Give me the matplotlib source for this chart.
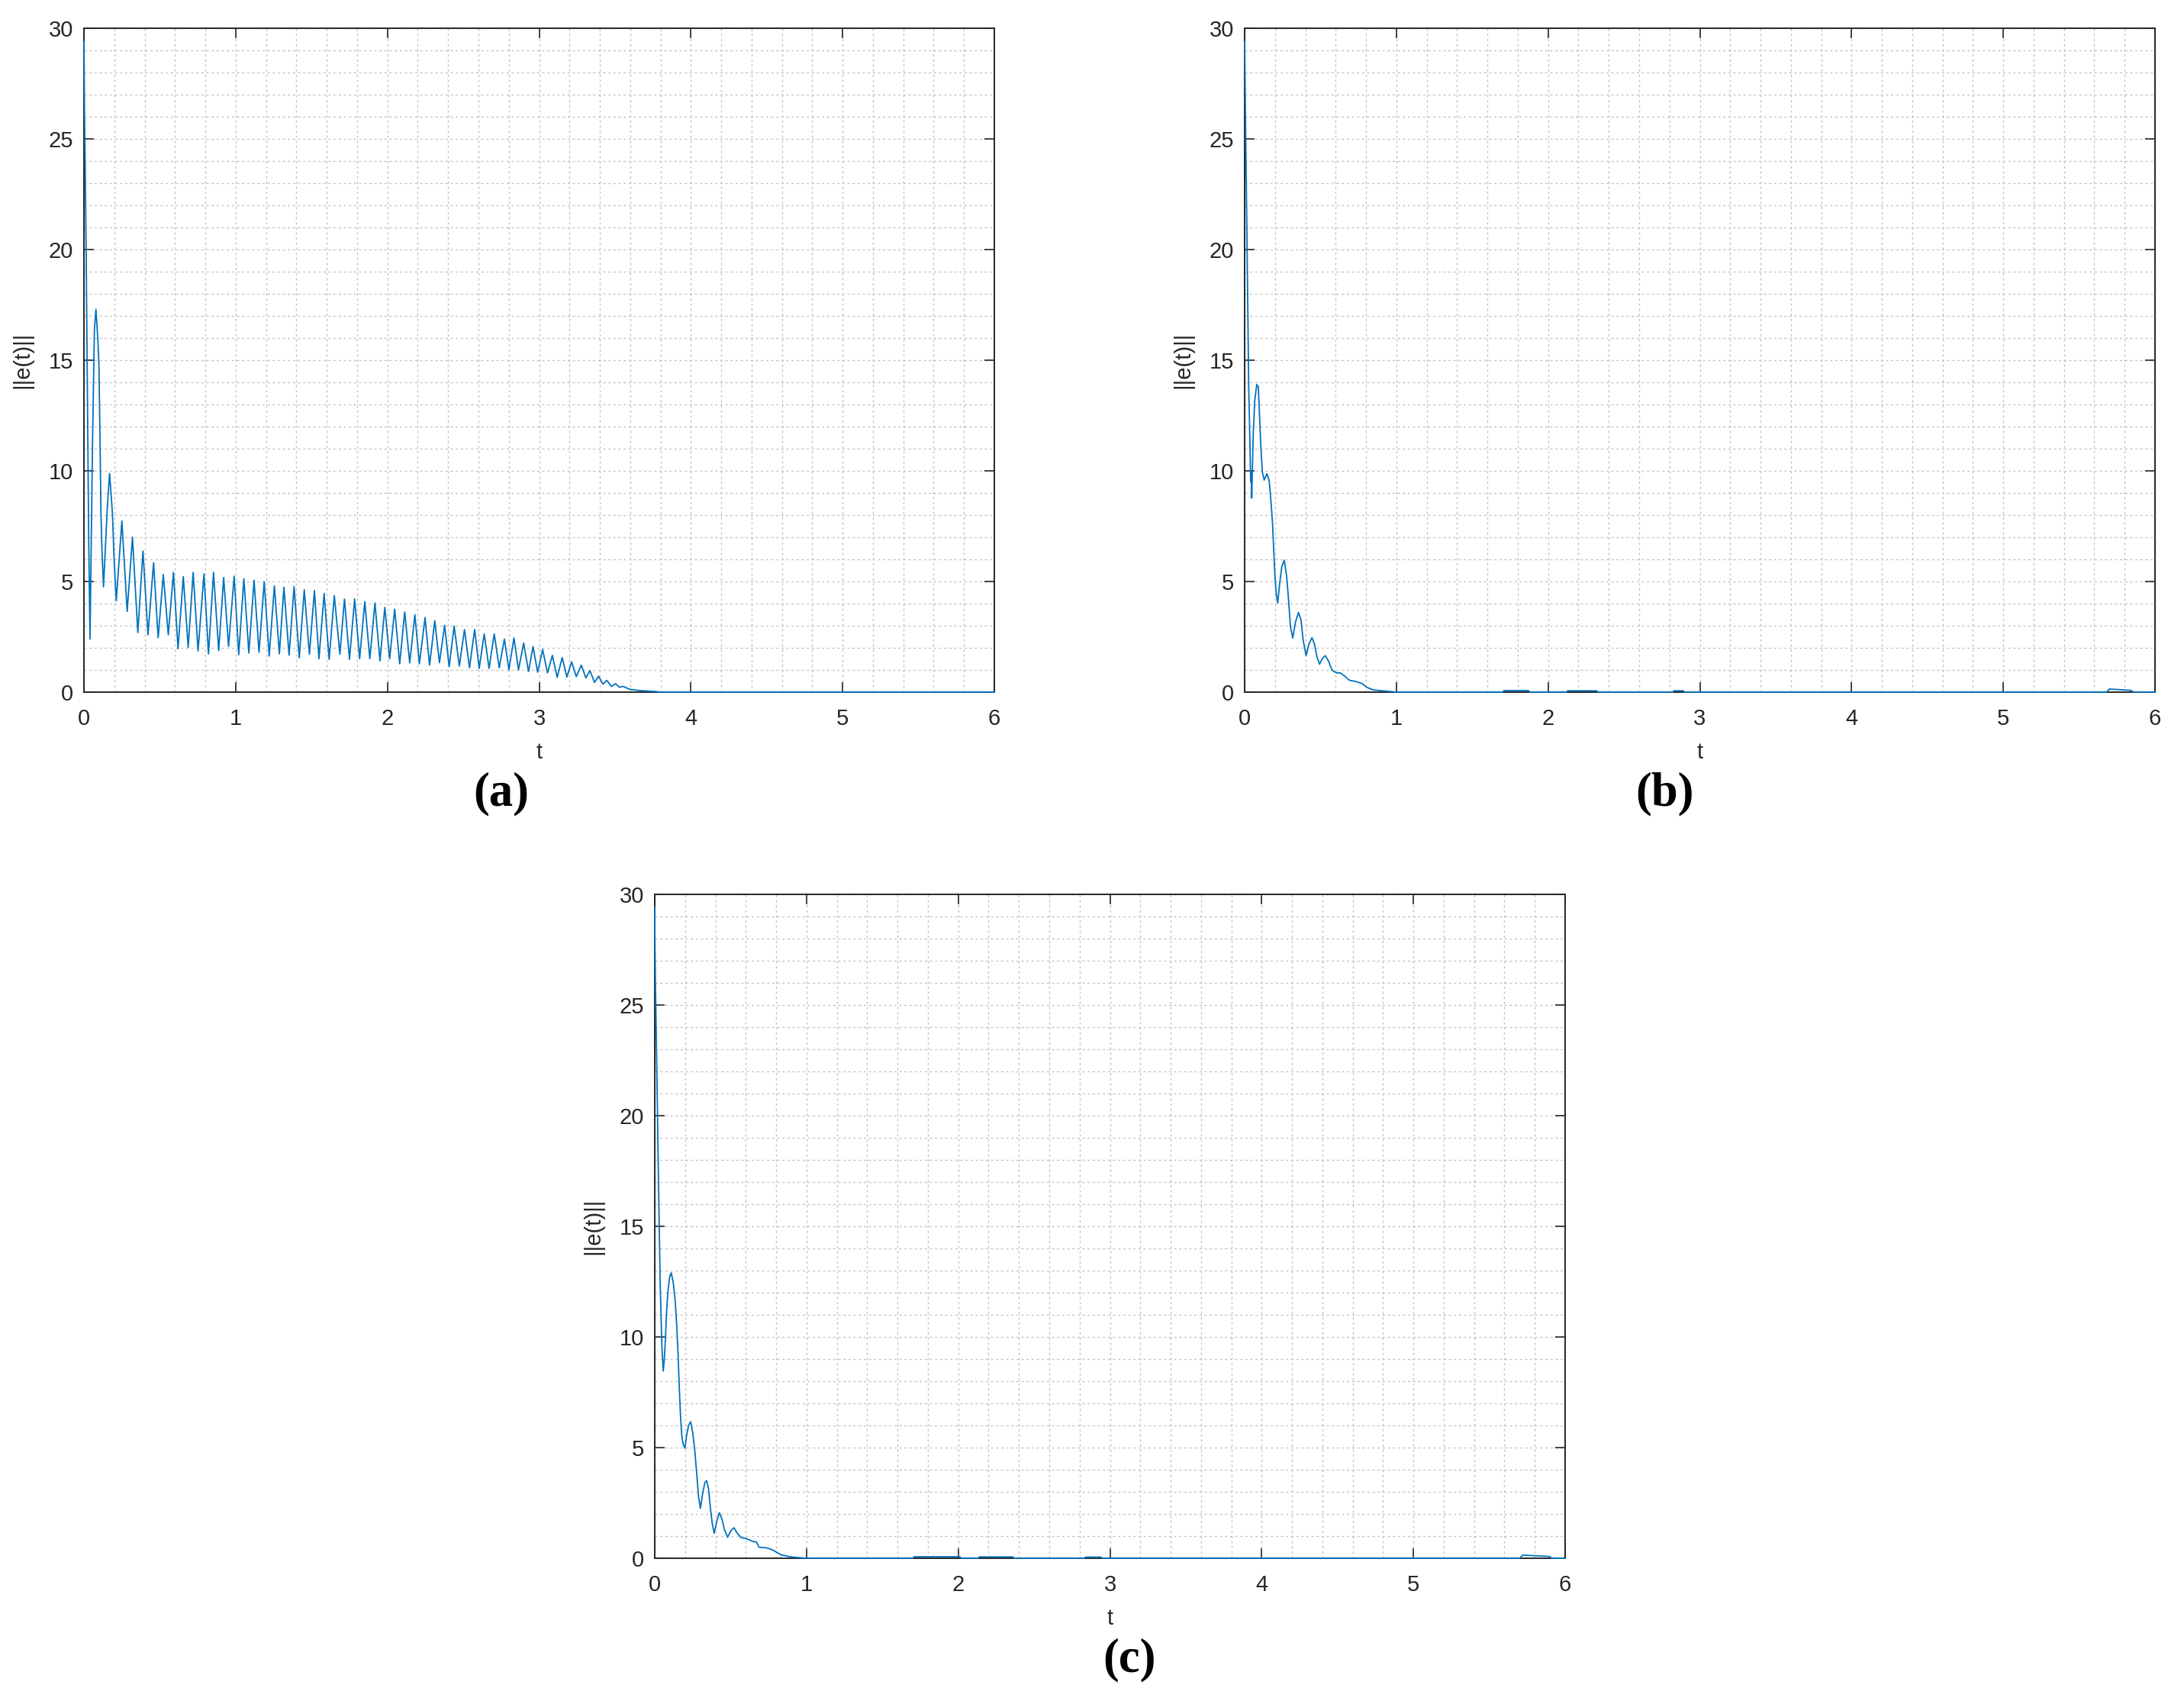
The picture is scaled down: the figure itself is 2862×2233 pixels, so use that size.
import matplotlib
matplotlib.use("Agg")
import matplotlib.pyplot as plt
from matplotlib.ticker import MultipleLocator

# ||e(t)|| (peaks, troughs and bends)
t_a = [0.000, 0.003, 0.008, 0.015, 0.020, 0.025, 0.032, 0.040, 0.046, 0.051,
       0.056, 0.062, 0.069, 0.079, 0.092, 0.099, 0.106, 0.112, 0.119, 0.129,
       0.142, 0.154, 0.169, 0.188, 0.199, 0.213, 0.250, 0.285, 0.320, 0.355,
       0.389, 0.422, 0.459, 0.489, 0.523, 0.556, 0.590, 0.620, 0.655, 0.687,
       0.720, 0.752, 0.791, 0.821, 0.854, 0.888, 0.921, 0.953, 0.990, 1.020,
       1.054, 1.087, 1.121, 1.154, 1.188, 1.221, 1.255, 1.288, 1.318, 1.352,
       1.385, 1.419, 1.452, 1.486, 1.519, 1.549, 1.583, 1.616, 1.650, 1.687,
       1.717, 1.750, 1.784, 1.817, 1.851, 1.884, 1.918, 1.951, 1.983, 2.015,
       2.048, 2.081, 2.114, 2.147, 2.181, 2.211, 2.248, 2.278, 2.312, 2.343,
       2.377, 2.407, 2.440, 2.474, 2.508, 2.541, 2.575, 2.605, 2.638, 2.670,
       2.704, 2.737, 2.771, 2.801, 2.834, 2.864, 2.898, 2.930, 2.960, 2.990,
       3.023, 3.055, 3.087, 3.119, 3.152, 3.183, 3.214, 3.245, 3.278, 3.308,
       3.335, 3.365, 3.392, 3.420, 3.446, 3.476, 3.504, 3.529, 3.554, 3.596,
       3.663, 3.764, 3.800, 6.000]
e_a = [29.4, 26.5, 24.0, 19.6, 15.7, 11.6, 6.5, 2.4, 5.7, 8.4,
       11.0, 13.4, 16.4, 17.3, 15.9, 14.7, 11.4, 8.1, 6.4, 4.76,
       6.6, 8.35, 9.88, 8.06, 5.95, 4.13, 7.73, 3.65, 7.00, 2.69,
       6.37, 2.59, 5.85, 2.46, 5.32, 2.59, 5.41, 1.96, 5.22, 2.02,
       5.41, 1.86, 5.34, 1.73, 5.41, 1.88, 5.18, 2.07, 5.24, 1.69,
       5.12, 1.77, 5.05, 1.80, 4.99, 1.63, 4.80, 1.73, 4.74, 1.67,
       4.77, 1.55, 4.63, 1.71, 4.59, 1.51, 4.46, 1.48, 4.36, 1.71,
       4.21, 1.48, 4.21, 1.51, 4.09, 1.51, 4.03, 1.41, 3.83, 1.51,
       3.75, 1.28, 3.62, 1.32, 3.50, 1.28, 3.37, 1.22, 3.23, 1.33,
       3.02, 1.16, 2.98, 1.18, 2.83, 1.10, 2.83, 1.07, 2.63, 1.07,
       2.63, 1.10, 2.40, 1.01, 2.45, 1.01, 2.22, 0.93, 2.06, 0.90,
       1.93, 0.87, 1.66, 0.67, 1.56, 0.68, 1.37, 0.70, 1.22, 0.64,
       0.97, 0.44, 0.72, 0.36, 0.53, 0.26, 0.38, 0.22, 0.26, 0.13,
       0.07, 0.03, 0.0, 0.0]

t_b = [0.000, 0.003, 0.007, 0.012, 0.017, 0.022, 0.027, 0.034, 0.040, 0.044,
       0.047, 0.057, 0.067, 0.080, 0.090, 0.099, 0.107, 0.117, 0.129, 0.147,
       0.162, 0.174, 0.184, 0.193, 0.201, 0.209, 0.218, 0.231, 0.245, 0.261,
       0.276, 0.288, 0.302, 0.317, 0.335, 0.355, 0.372, 0.385, 0.405, 0.425,
       0.444, 0.461, 0.476, 0.494, 0.511, 0.531, 0.553, 0.576, 0.606, 0.631,
       0.657, 0.690, 0.732, 0.774, 0.807, 0.849, 0.908, 0.975, 1.000,
       1.70, 1.71, 1.87, 1.88, 2.12, 2.13, 2.32, 2.33, 2.82, 2.83, 2.89, 2.90,
       5.68, 5.70, 5.84, 5.86, 6.00]
e_b = [29.4, 27.5, 25.2, 22.5, 19.6, 16.7, 13.8, 11.6, 9.5, 10.0,
       8.77, 11.7, 13.2, 13.9, 13.8, 12.4, 11.1, 9.93, 9.58, 9.87,
       9.55, 8.58, 7.61, 6.25, 5.09, 4.41, 4.03, 4.90, 5.67, 5.96,
       5.29, 4.32, 2.96, 2.44, 3.16, 3.60, 3.25, 2.38, 1.65, 2.19,
       2.46, 2.15, 1.61, 1.26, 1.51, 1.65, 1.41, 0.99, 0.87, 0.87,
       0.74, 0.54, 0.48, 0.39, 0.21, 0.10, 0.06, 0.02, 0.0,
       0.0, 0.07, 0.07, 0.0, 0.0, 0.06, 0.06, 0.0, 0.0, 0.06, 0.06, 0.0,
       0.0, 0.14, 0.08, 0.0, 0.0]

t_c = [0.000, 0.001, 0.005, 0.010, 0.015, 0.020, 0.025, 0.030, 0.035, 0.042,
       0.047, 0.056, 0.062, 0.069, 0.077, 0.086, 0.098, 0.109, 0.123, 0.135,
       0.145, 0.153, 0.162, 0.170, 0.178, 0.187, 0.199, 0.210, 0.224, 0.237,
       0.251, 0.264, 0.278, 0.288, 0.301, 0.316, 0.330, 0.342, 0.355, 0.367,
       0.379, 0.392, 0.409, 0.426, 0.443, 0.460, 0.480, 0.502, 0.522, 0.544,
       0.569, 0.603, 0.645, 0.670, 0.687, 0.737, 0.779, 0.830, 0.897, 0.965,
       1.000,
       1.70, 1.71, 2.01, 2.02, 2.13, 2.14, 2.36, 2.37, 2.83, 2.84, 2.94, 2.95,
       5.70, 5.72, 5.90, 5.91, 6.00]
e_c = [29.4, 27.8, 25.8, 23.7, 21.5, 19.2, 16.9, 14.9, 12.7, 10.8,
       9.6, 8.46, 8.9, 9.7, 11.0, 12.0, 12.7, 12.9, 12.4, 11.6,
       10.5, 9.33, 7.68, 6.42, 5.55, 5.16, 4.97, 5.55, 6.03, 6.17,
       5.64, 4.87, 3.71, 2.83, 2.25, 2.93, 3.41, 3.51, 3.12, 2.25,
       1.57, 1.13, 1.67, 2.06, 1.77, 1.28, 0.95, 1.24, 1.38, 1.13,
       0.93, 0.89, 0.76, 0.74, 0.50, 0.47, 0.37, 0.16, 0.06, 0.02,
       0.0,
       0.0, 0.07, 0.07, 0.0, 0.0, 0.06, 0.06, 0.0, 0.0, 0.05, 0.05, 0.0,
       0.0, 0.14, 0.08, 0.0, 0.0]

x_ticks = [0, 1, 2, 3, 4, 5, 6]
y_ticks = [0, 5, 10, 15, 20, 25, 30]

plt.rcParams['font.family'] = ['Liberation Sans', 'DejaVu Sans']

fig = plt.figure(figsize=(28.62, 22.33), dpi=100)

ax_w, ax_h = 1193 / 2862, 870 / 2233
boxes = {
    'a': [110 / 2862, 1 - 907 / 2233, ax_w, ax_h],
    'b': [1631 / 2862, 1 - 907 / 2233, ax_w, ax_h],
    'c': [858 / 2862, 1 - 2042 / 2233, ax_w, ax_h],
}
curves = {'a': (t_a, e_a), 'b': (t_b, e_b), 'c': (t_c, e_c)}
dark = '#262626'

for key in ['a', 'b', 'c']:
    ax = fig.add_axes(boxes[key])
    t, e = curves[key]
    ax.plot(t, e, color='#0072BD', lw=1.3, zorder=3, clip_on=False)

    ax.set_xlim(0, 6)
    ax.set_ylim(0, 30)
    ax.set_xticks(x_ticks)
    ax.set_yticks(y_ticks)
    ax.xaxis.set_minor_locator(MultipleLocator(0.2))
    ax.yaxis.set_minor_locator(MultipleLocator(1))
    ax.grid(True, which='both', color='#c4c4c4', lw=1.0,
            linestyle=(0, (2.2, 2.6)))
    ax.set_axisbelow(True)

    ax.tick_params(which='major', direction='in', length=9.4, width=1.2,
                   color=dark, labelcolor=dark, labelsize=21,
                   top=True, right=True)
    ax.tick_params(axis='x', which='major', pad=15)
    ax.tick_params(axis='y', which='major', pad=10)
    ax.tick_params(which='minor', length=0)
    for sp in ax.spines.values():
        sp.set_linewidth(1.4)
        sp.set_color(dark)

    ax.set_xlabel('t', fontsize=21, color=dark)
    ax.set_ylabel('||e(t)||', fontsize=21, color=dark)
    ax.xaxis.set_label_coords(0.5, -0.075)
    ax.yaxis.set_label_coords(-0.056, 0.5)

# panel letters
fig.text(657 / 2862, 1 - 1040 / 2233, '(a)', fontsize=45, fontweight='bold',
         family='Liberation Serif', ha='center', va='center')
fig.text(2181 / 2862, 1 - 1040 / 2233, '(b)', fontsize=45, fontweight='bold',
         family='Liberation Serif', ha='center', va='center')
fig.text(1480 / 2862, 1 - 2175 / 2233, '(c)', fontsize=45, fontweight='bold',
         family='Liberation Serif', ha='center', va='center')

fig.savefig('out.png', dpi=100)
